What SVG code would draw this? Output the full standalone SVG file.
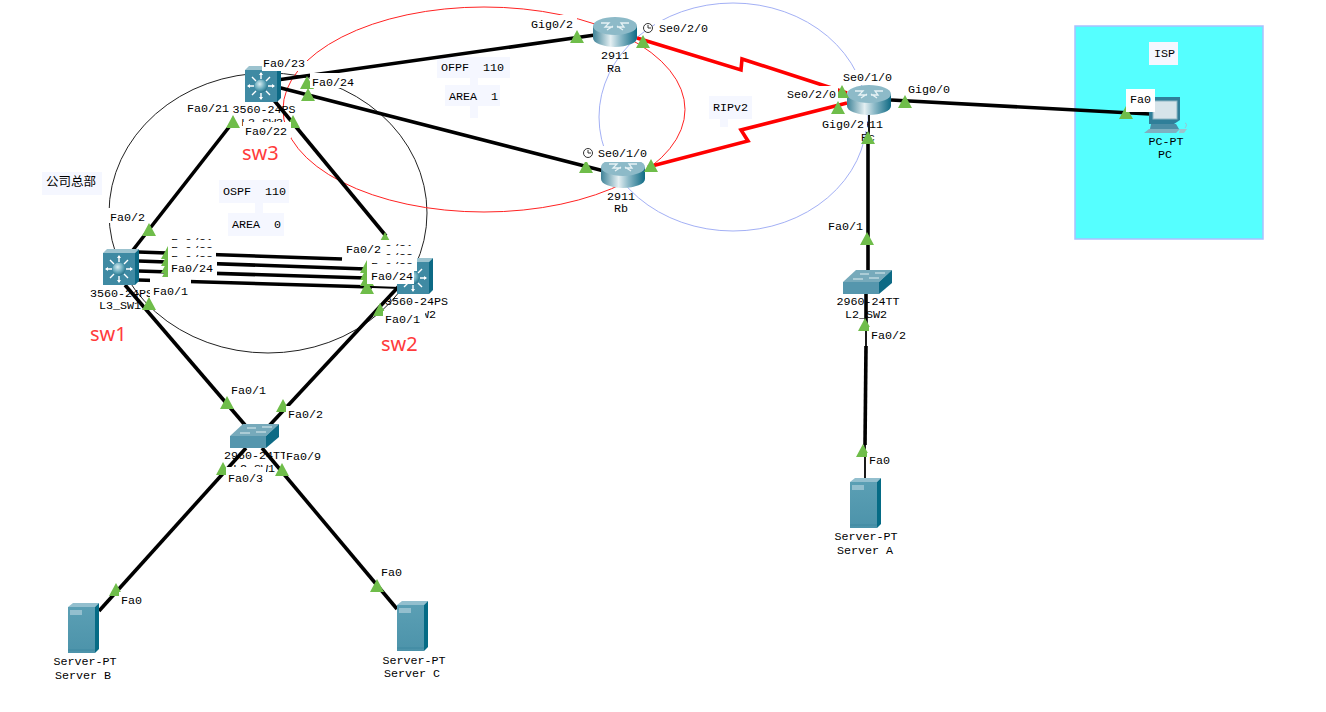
<svg xmlns="http://www.w3.org/2000/svg" width="1326" height="712" viewBox="0 0 1326 712">
<style>
  text{font-family:"Liberation Mono","DejaVu Sans Mono",monospace;font-size:11.7px;fill:#000}
  .c{text-anchor:middle}
  .note{fill:#f5f7ff}
  .w{fill:#fff}
  .cjk{font-family:"Noto Sans CJK SC","Noto Sans",sans-serif;font-size:12.5px}
  .tag{font-family:"Noto Sans","Liberation Sans",sans-serif;font-size:20px;fill:#ff3b3b}
  .eth{stroke:#000;stroke-width:3.6;fill:none}
  .thin{stroke:#000;stroke-width:1.8;fill:none}
  .ser{stroke:#f00;stroke-width:3.6;fill:none;stroke-linejoin:miter}
  .ring{fill:none;stroke-width:1}
  .tri{fill:#6fbd4a}
  .clk{fill:#fff;stroke:#333;stroke-width:1}
</style>
<defs>
  <linearGradient id="cyl" x1="0" x2="1" y1="0" y2="0">
    <stop offset="0" stop-color="#3f8398"/><stop offset=".4" stop-color="#e4eff2"/><stop offset=".62" stop-color="#8dbac8"/><stop offset="1" stop-color="#0f6a84"/>
  </linearGradient>
  <radialGradient id="ball" cx=".4" cy=".35" r=".7">
    <stop offset="0" stop-color="#d7edf2"/><stop offset=".6" stop-color="#5fa5b8"/><stop offset="1" stop-color="#1f6d84"/>
  </radialGradient>
  <linearGradient id="srv" x1="0" x2="0" y1="0" y2="1">
    <stop offset="0" stop-color="#5b9fb4"/><stop offset="1" stop-color="#4c93aa"/>
  </linearGradient>
  <symbol id="tr" overflow="visible"><path class="tri" d="M0 0 7 13H-7Z"/></symbol>
  <symbol id="l3" overflow="visible">
    <path d="M0 4 4 0H36L32 4Z" fill="#9cc3cf"/>
    <path d="M32 4 36 0V32L32 36Z" fill="#0d6a85"/>
    <rect y="4" width="32" height="32" fill="#3f8aa3"/>
    <g stroke="#fff" stroke-width="1.4" fill="#fff">
      <path d="M16 7V13M16 27V33M3 20H9M23 20H29M7 11 11 15M25 11 21 15M7 29 11 25M25 29 21 25"/>
      <path d="M16 6 14 9H18ZM16 34 14 31H18ZM2 20 5 18V22ZM30 20 27 18V22Z" stroke="none"/>
    </g>
    <circle cx="16" cy="20" r="6.5" fill="url(#ball)"/>
  </symbol>
  <symbol id="l2" overflow="visible">
    <path d="M0 12 13 0H49L36 12Z" fill="#77aabb"/>
    <path d="M36 12 49 0V13L36 24Z" fill="#0d6a85"/>
    <rect y="12" width="36" height="12" fill="#5596ad"/>
    <path d="M17 4H26M32 3H42M10 9H20M26 8H36" stroke="#dfeef2" stroke-width="1.2"/>
  </symbol>
  <symbol id="rt" overflow="visible">
    <rect y="9" width="44" height="12" fill="url(#cyl)"/>
    <ellipse cx="22" cy="21" rx="22" ry="9" fill="url(#cyl)"/>
    <ellipse cx="22" cy="9" rx="22" ry="9" fill="#8dbac8"/>
    <path d="M8 6H16L12 10H20M36 6H28L31 10H24M14 13 20 9M30 13 24 9" stroke="#e6f2f5" stroke-width="1.3" fill="none"/>
  </symbol>
  <symbol id="srvr" overflow="visible">
    <path d="M0 4 5 0H31L27 4Z" fill="#93bfce"/>
    <path d="M27 4 31 0V46L27 50Z" fill="#056b85"/>
    <rect y="4" width="27" height="46" fill="url(#srv)"/>
    <rect x="2" y="7" width="12" height="5" fill="#93bfce"/>
    <path d="M0 47H27" stroke="#3f88a0"/>
  </symbol>
  <symbol id="pc" overflow="visible">
    <path d="M5 3 9 0H36V23L30 27H5Z" fill="#2f7f99"/>
    <rect x="9" y="4" width="24" height="18" fill="#d6e4ea" stroke="#8db6c4"/>
    <path d="M7 27H32L35 32H6Z" fill="#4c8ea5"/>
    <path d="M5 32H36L32 36H0Z" fill="#7fb0c0"/>
    <path d="M36 32H43L40 36H35Z" fill="#9cc3cf"/>
    <path d="M41 26Q44 27 41 31" fill="none" stroke="#9cc3cf"/>
  </symbol>
</defs>

<!-- ISP cloud area -->
<rect x="1075" y="26" width="188" height="213" fill="#55ffff" stroke="#a9c0ff" stroke-width="1.5"/>

<!-- Routing domain rings -->
<g id="rings">
  <ellipse class="ring" cx="268" cy="213" rx="159" ry="140" stroke="#222"/>
  <ellipse class="ring" cx="484" cy="109.500" rx="201" ry="102.500" stroke="#f22"/>
  <ellipse class="ring" cx="733" cy="117" rx="134" ry="114" stroke="#a3b0f5"/>
</g>

<!-- Notes -->
<g id="notes">
  <rect class="note" x="42" y="172" width="60" height="23"/>
  <text class="cjk" x="46" y="186">公司总部</text>
  <path class="note" d="M219 180H289V203H263V213H284V236H228V213H255V203H219Z"/>
  <text x="223" y="195" xml:space="preserve">OSPF  110</text>
  <text x="232" y="228" xml:space="preserve">AREA  0</text>
  <path class="note" d="M437 57H510V78H478V85H500V106H478V118H470V106H445V85H470V78H437Z"/>
  <text x="441" y="71" xml:space="preserve">OFPF  110</text>
  <text x="449" y="100" xml:space="preserve">AREA  1</text>
  <path class="note" d="M709 96H752V119H728V127H720V119H709Z"/>
  <text x="713" y="111">RIPv2</text>
  <rect class="note" x="1149" y="42" width="29" height="23"/>
  <text x="1154" y="57">ISP</text>
  <text class="tag" x="90" y="341">sw1</text>
  <text class="tag" x="242" y="160">sw3</text>
  <text class="tag" x="381" y="351">sw2</text>
</g>

<!-- Connectors -->
<g id="connectors">
  <path class="eth" d="M277 80 595 35"/>
  <path class="eth" d="M277 87 604 171"/>
  <path class="eth" d="M233 122 133 250"/>
  <path class="eth" d="M273 99 386 236"/>
  <path class="eth" d="M138 252 342 259"/>
  <path class="eth" d="M138 261 366 269"/>
  <path class="eth" d="M138 271 366 278"/>
  <path class="eth" d="M138 280 372 287"/>
  <path class="thin" d="M372 287 400 288"/>
  <path class="eth" d="M125 285 245 425"/>
  <path class="eth" d="M400 285 268 427"/>
  <path class="eth" d="M246 448 99 611"/>
  <path class="eth" d="M262 448 397 609"/>
  <path class="eth" d="M891 100 1150 114"/>
  <path class="thin" d="M869 113V132"/>
  <path class="eth" d="M868 132V270"/>
  <path class="eth" d="M866 293V330"/>
  <path class="thin" d="M866 330V346"/>
  <path class="eth" d="M866 346 865 445"/>
  <path class="thin" d="M865 445V478"/>
  <path class="ser" d="M637 38 741 70 742 59 847 93"/>
  <path class="ser" d="M648 167 748 141 741 130 847 103"/>
</g>

<!-- Devices -->
<g id="sw3"><use href="#l3" x="245" y="66"/></g>
<g id="sw1"><use href="#l3" x="103" y="249"/></g>
<g id="sw2"><use href="#l3" x="397" y="258"/></g>
<g id="Ra"><use href="#rt" x="593" y="17"/>
  <text class="c" x="615" y="59">2911</text><text class="c" x="614" y="72">Ra</text></g>
<g id="Rb"><use href="#rt" x="601" y="158"/>
  <text class="c" x="621" y="200">2911</text><text class="c" x="621" y="212">Rb</text></g>
<g id="Rc"><use href="#rt" x="847" y="85"/>
  <text class="c" x="869" y="128">2911</text><text class="c" x="868" y="141">Rc</text></g>
<g id="L2_SW1"><use href="#l2" x="230" y="424"/></g>
<g id="L2_SW2"><use href="#l2" x="843" y="270"/>
  <text class="c" x="868" y="305">2960-24TT</text><text class="c" x="866" y="318">L2_SW2</text></g>
<g id="ServerA"><use href="#srvr" x="850" y="478"/>
  <text class="c" x="866" y="540">Server-PT</text><text class="c" x="865" y="554">Server A</text></g>
<g id="ServerB"><use href="#srvr" x="68" y="603"/>
  <text class="c" x="85" y="665">Server-PT</text><text class="c" x="83" y="679">Server B</text></g>
<g id="ServerC"><use href="#srvr" x="397" y="601"/>
  <text class="c" x="414" y="664">Server-PT</text><text class="c" x="412" y="677">Server C</text></g>
<g id="PC"><use href="#pc" x="1144" y="97"/>
  <text class="c" x="1166" y="145">PC-PT</text><text class="c" x="1165" y="158">PC</text></g>

<!-- Port status markers -->
<g id="ports">
  <use href="#tr" x="577" y="30"/><use href="#tr" x="643" y="35"/>
  <use href="#tr" x="586" y="160"/><use href="#tr" x="651" y="159"/>
  <use href="#tr" x="842" y="85"/><use href="#tr" x="838" y="101"/>
  <use href="#tr" x="905" y="95"/><use href="#tr" x="868" y="131"/>
  <use href="#tr" x="867" y="232"/><use href="#tr" x="865" y="318"/>
  <use href="#tr" x="863" y="444"/><use href="#tr" x="1126" y="106"/>
  <use href="#tr" x="307" y="76"/><use href="#tr" x="308" y="88"/>
  <use href="#tr" x="233" y="115"/><use href="#tr" x="293" y="115"/>
  <use href="#tr" x="149" y="223"/><use href="#tr" x="385" y="232"/>
  <use href="#tr" x="168" y="246"/><use href="#tr" x="168" y="253"/>
  <use href="#tr" x="168" y="260"/><use href="#tr" x="168" y="266"/>
  <use href="#tr" x="367" y="260"/><use href="#tr" x="367" y="267"/>
  <use href="#tr" x="367" y="273"/><use href="#tr" x="367" y="281"/>
  <use href="#tr" x="149" y="297"/><use href="#tr" x="380" y="303"/>
  <use href="#tr" x="227" y="396"/><use href="#tr" x="283" y="399"/>
  <use href="#tr" x="223" y="462"/><use href="#tr" x="282" y="463"/>
  <use href="#tr" x="116" y="583"/><use href="#tr" x="377" y="579"/>
</g>

<!-- Device names and port labels, stacked in draw order -->
<g id="labels">
  <text class="c" x="264" y="113">3560-24PS</text><text class="c" x="262" y="126">L3_SW3</text>
  <text x="90" y="297">3560-24PS</text>
  <text x="385" y="305">3560-24PS</text>
  <text x="394" y="318">L3_SW2</text>
  <text x="224" y="459">2960-24TT</text><text class="c" x="254" y="472">L2_SW1</text>

  <rect class="w" x="527" y="15" width="50" height="15"/><text x="531" y="28">Gig0/2</text>
  <circle class="clk" cx="648" cy="28" r="4.500"/><path d="M648 25V28H651" fill="none" stroke="#333"/>
  <rect class="w" x="655" y="20" width="54" height="15"/><text x="659" y="32">Se0/2/0</text>
  <rect class="w" x="839" y="70" width="54" height="15"/><text x="843" y="81">Se0/1/0</text>
  <rect class="w" x="784" y="86" width="54" height="15"/><text x="787" y="98">Se0/2/0</text>
  <rect class="w" x="905" y="80" width="46" height="15"/><text x="908" y="93">Gig0/0</text>
  <rect class="w" x="819" y="115" width="48" height="16"/><text x="822" y="128">Gig0/2</text>
  <rect class="w" x="583" y="146" width="66" height="16"/>
  <circle class="clk" cx="588" cy="153" r="4.500"/><path d="M588 150V153H591" fill="none" stroke="#333"/>
  <text x="598" y="157">Se0/1/0</text>

  <rect class="w" x="262" y="55" width="45" height="16"/><text x="263" y="67">Fa0/23</text>
  <rect class="w" x="310" y="73" width="46" height="15"/><text x="312" y="86">Fa0/24</text>
  <rect class="w" x="184" y="99" width="47" height="16"/><text x="187" y="112">Fa0/21</text>
  <rect class="w" x="243" y="122" width="48" height="16"/><text x="245" y="135">Fa0/22</text>
  <rect class="w" x="107" y="208" width="41" height="15"/><text x="110" y="221">Fa0/2</text>

  <rect class="w" x="168" y="234" width="48" height="16"/><text x="171" y="246">Fa0/21</text>
  <rect class="w" x="168" y="240" width="48" height="17"/><text x="171" y="254">Fa0/22</text>
  <rect class="w" x="168" y="248" width="48" height="17"/><text x="171" y="263">Fa0/23</text>
  <rect class="w" x="168" y="257" width="49" height="20"/><text x="171" y="272">Fa0/24</text>
  <rect class="w" x="150" y="277" width="41" height="21"/><text x="153" y="295">Fa0/1</text>
  <text x="99" y="309">L3_SW1</text>

  <rect class="w" x="367" y="240" width="50" height="16"/><text x="371" y="252">Fa0/21</text>
  <rect class="w" x="367" y="246" width="50" height="16"/><text x="371" y="261">Fa0/22</text>
  <rect class="w" x="367" y="255" width="50" height="16"/><text x="371" y="270">Fa0/23</text>
  <rect class="w" x="367" y="264" width="47" height="20"/><text x="371" y="280">Fa0/24</text>
  <rect class="w" x="343" y="240" width="40" height="17"/><text x="346" y="253">Fa0/2</text>
  <rect class="w" x="383" y="311" width="42" height="17"/><text x="385" y="323">Fa0/1</text>

  <rect class="w" x="228" y="382" width="40" height="15"/><text x="231" y="394">Fa0/1</text>
  <rect class="w" x="286" y="406" width="40" height="16"/><text x="288" y="418">Fa0/2</text>
  <rect class="w" x="285" y="448" width="38" height="16"/><text x="286" y="460">Fa0/9</text>
  <rect class="w" x="226" y="467" width="40" height="20"/><text x="228" y="482">Fa0/3</text>

  <rect class="w" x="119" y="592" width="26" height="15"/><text x="121" y="604">Fa0</text>
  <rect class="w" x="379" y="566" width="26" height="13"/><text x="381" y="576">Fa0</text>
  <rect class="w" x="825" y="218" width="40" height="14"/><text x="828" y="230">Fa0/1</text>
  <rect class="w" x="869" y="327" width="40" height="16"/><text x="871" y="339">Fa0/2</text>
  <rect class="w" x="867" y="453" width="26" height="15"/><text x="869" y="464">Fa0</text>
  <rect class="w" x="1126" y="89" width="29" height="23"/><text x="1130" y="103">Fa0</text>
</g>
</svg>
